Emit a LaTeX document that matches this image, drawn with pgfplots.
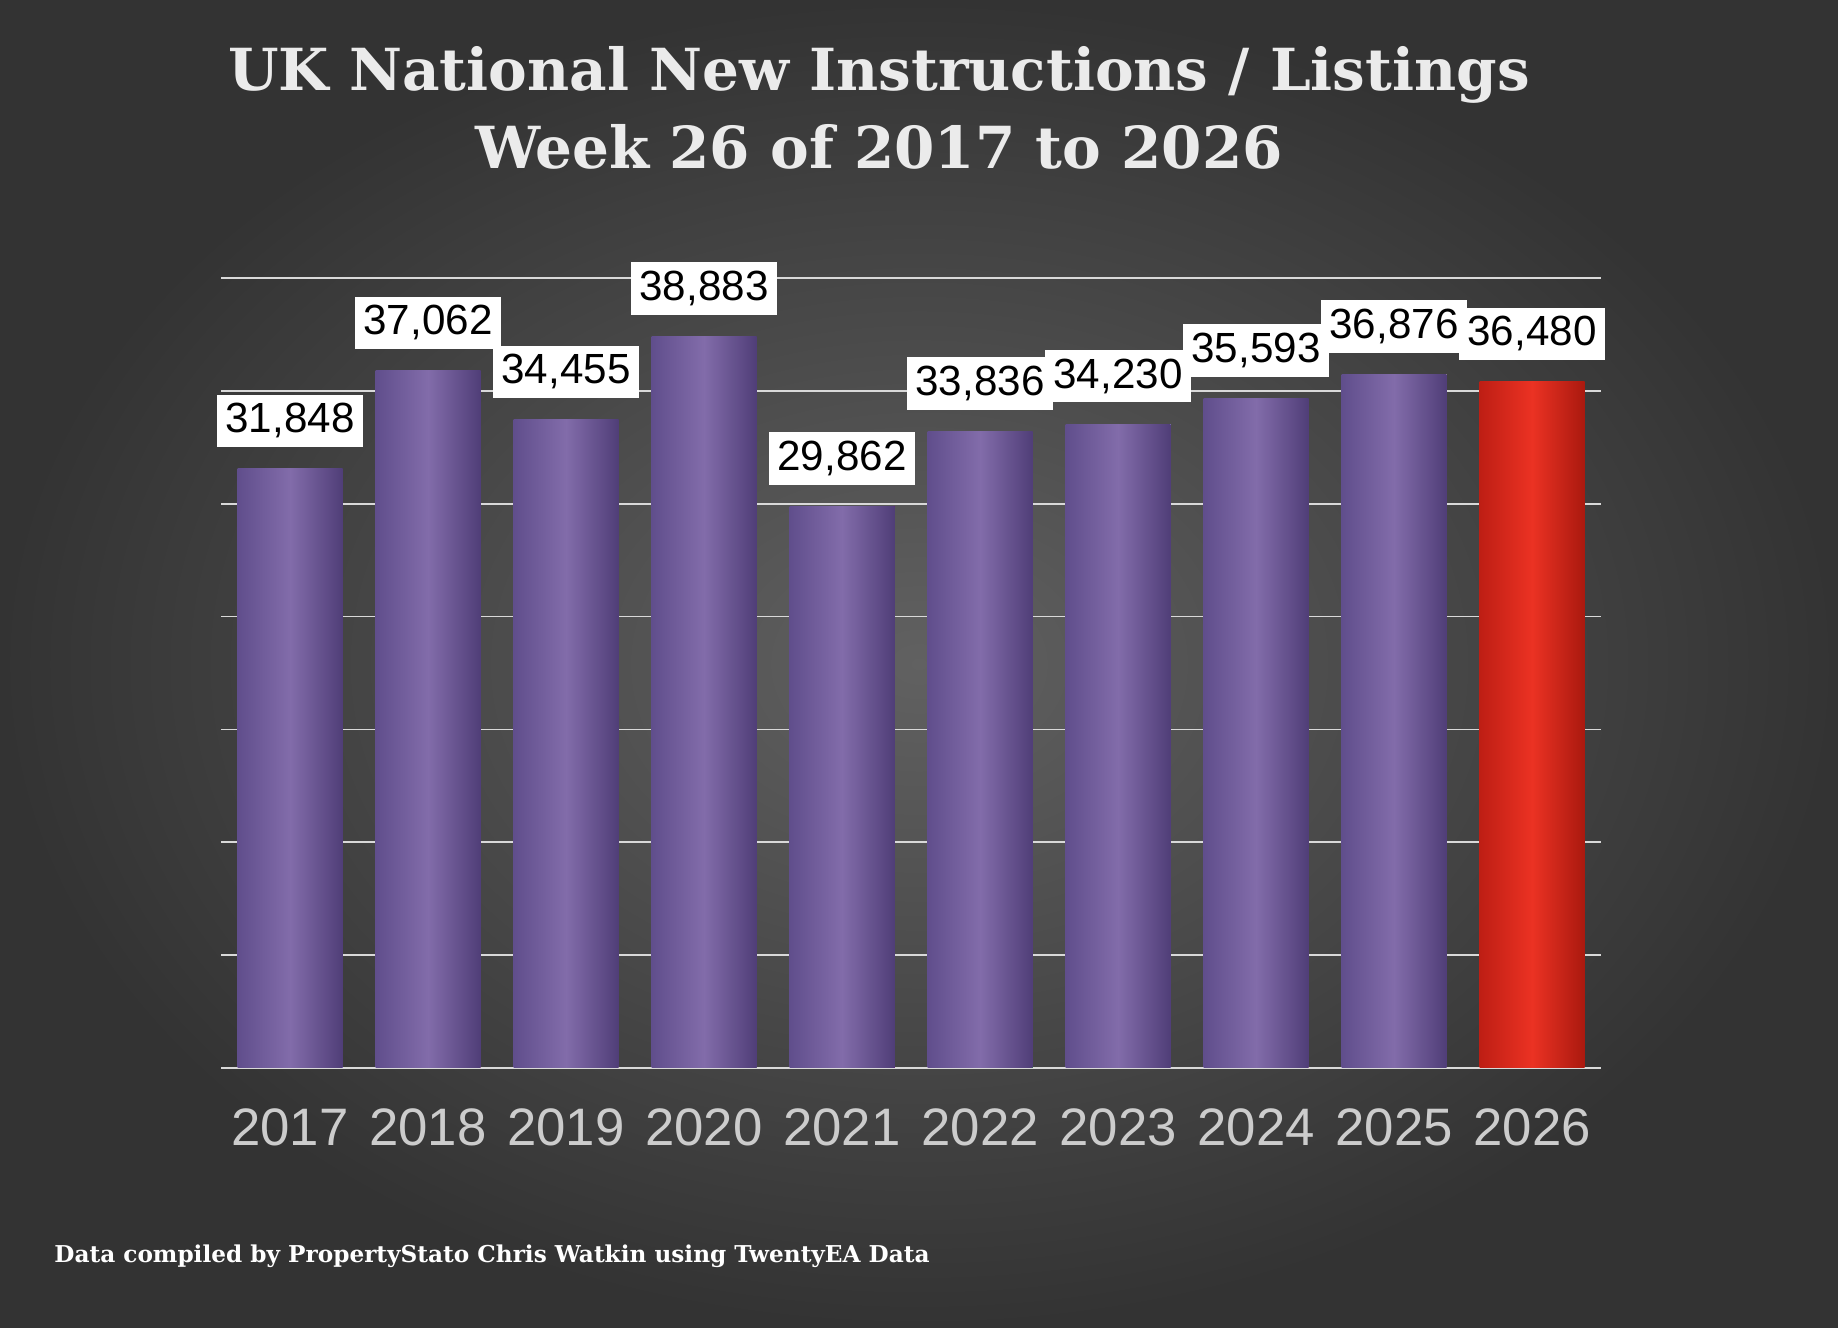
\documentclass[border=0pt]{standalone}
\usepackage{pgfplots}
\pgfplotsset{compat=1.18}
\usepackage{fontspec}
\setmainfont{Liberation Sans}
\newfontfamily\titlefont{DejaVu Serif}
\definecolor{pA}{RGB}{96,78,140}
\definecolor{pB}{RGB}{80,62,120}
\definecolor{pM}{RGB}{130,108,170}
\definecolor{rA}{RGB}{190,30,20}
\definecolor{rM}{RGB}{235,50,35}
\definecolor{rB}{RGB}{170,25,15}
\begin{document}
\begin{tikzpicture}
\useasboundingbox (0,0) rectangle (18.38cm,13.28cm);
\shade[inner color=black!62, outer color=black!80] (0,0) rectangle (18.38cm,13.28cm);
\node[text=white!92!black, font=\titlefont\bfseries\fontsize{16.5}{22}\selectfont, align=center] at (8.79cm,12.2cm) {UK National New Instructions / Listings\\Week 26 of 2017 to 2026};
\node[anchor=west, text=white, font=\titlefont\bfseries\fontsize{6.6}{8}\selectfont] at (0.42cm,0.72cm) {Data compiled by PropertyStato Chris Watkin using TwentyEA Data};
\begin{axis}[at={(2.9cm,2.6cm)}, anchor=origin, scale only axis,
  width=13.8cm, height=7.9cm,
  ybar, bar width=1.05cm,
  xmin=-0.5, xmax=9.5, ymin=0, ymax=42000,
  axis line style={draw=none}, ytick={0,6000,...,42000}, yticklabels={},
  scaled y ticks=false,
  major tick length=0pt,
  ymajorgrids, grid style={white!85!black, line width=0.5pt},
  xtick={0,...,9}, xticklabels={2017,2018,2019,2020,2021,2022,2023,2024,2025,2026},
  xticklabel style={text=white!80!black, font=\fontsize{15}{18}\selectfont, yshift=-8pt},
  /pgf/number format/assume math mode=true,
  /pgf/number format/1000 sep={,},
  nodes near coords,
  nodes near coords style={fill=white, text=black, font=\fontsize{12}{14}\selectfont, inner sep=2.5pt, yshift=6pt},
  every axis plot/.append style={bar shift=0pt, draw=none, left color=pA, right color=pB, middle color=pM},
]
\addplot coordinates {(0,31848)};
\addplot coordinates {(1,37062)};
\addplot coordinates {(2,34455)};
\addplot coordinates {(3,38883)};
\addplot coordinates {(4,29862)};
\addplot coordinates {(5,33836)};
\addplot coordinates {(6,34230)};
\addplot coordinates {(7,35593)};
\addplot coordinates {(8,36876)};
\addplot[left color=rA, right color=rB, middle color=rM] coordinates {(9,36480)};
\end{axis}
\end{tikzpicture}
\end{document}
